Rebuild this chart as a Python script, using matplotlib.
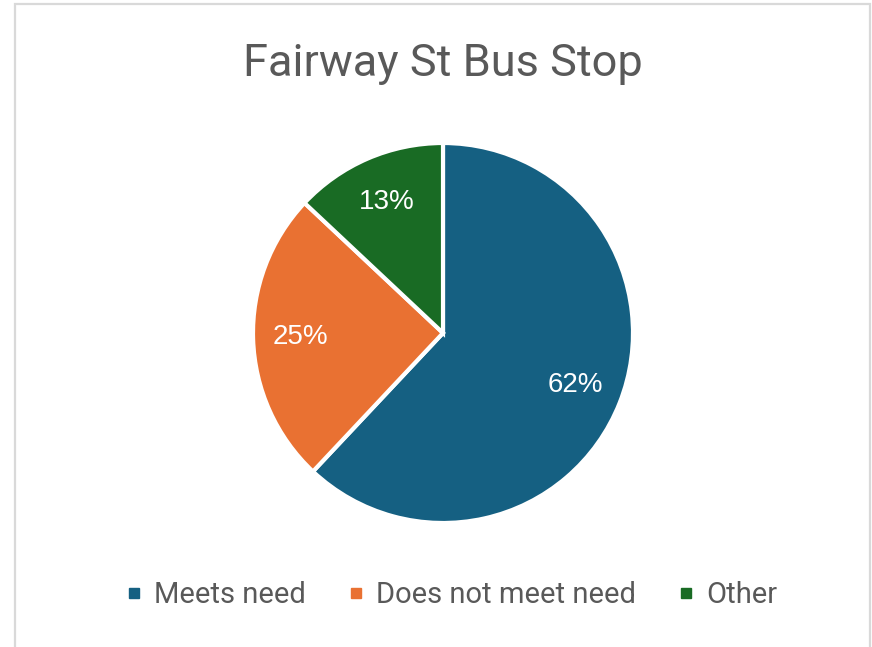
import matplotlib.pyplot as plt
from matplotlib.lines import Line2D
from matplotlib.patches import Rectangle

labels = ["Meets need", "Does not meet need", "Other"]
shares = [62, 25, 13]
colors = ["#156082", "#E97132", "#196B24"]
title = "Fairway St Bus Stop"


def main():
    fig = plt.figure(figsize=(8.72, 6.47), dpi=100)

    # light gray chart border (bottom runs off the image)
    fig.patches.append(Rectangle((15 / 872, -0.05), (870 - 15) / 872, 1.05 - 4 / 647,
                                 transform=fig.transFigure, fill=False,
                                 edgecolor="#d9d9d9", linewidth=1.6))

    ax = fig.add_axes([253 / 872, 124 / 647, 380 / 872, 380 / 647])
    wedges, texts, autotexts = ax.pie(
        shares, colors=colors, startangle=90, counterclock=False,
        autopct="%d%%", pctdistance=0.75,
        wedgeprops=dict(edgecolor="white", linewidth=3),
        textprops=dict(color="white", fontsize=20, family="Liberation Sans"))
    ax.set_xlim(-1.0, 1.0)
    ax.set_ylim(-1.0, 1.0)
    ax.set_aspect("equal")

    fig.text(442.5 / 872, 1 - 64 / 647, title, ha="center", va="center",
             fontsize=32.5, color="#595959", family="Roboto")

    handles = [Line2D([], [], marker="s", linestyle="none", markersize=7,
                      markerfacecolor=c, markeredgecolor=c) for c in colors]
    fig.legend(handles, labels, loc="center", bbox_to_anchor=(0.514, 1 - 595 / 647),
               ncol=3, frameon=False, handletextpad=0.2, columnspacing=1.2,
               handlelength=1.0, prop=dict(family="Roboto", size=21),
               labelcolor="#595959")

    fig.savefig("out.png", dpi=100)


if __name__ == "__main__":
    main()
